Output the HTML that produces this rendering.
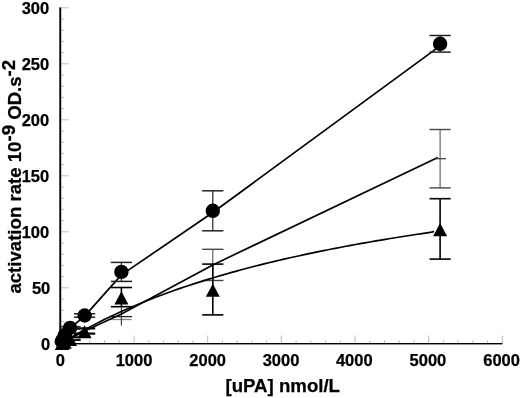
<!DOCTYPE html><html><head><meta charset="utf-8"><title>chart</title>
<style>html,body{margin:0;padding:0;background:#fff;}svg{display:block;}text{font-family:"Liberation Sans",Arial,sans-serif;font-weight:bold;fill:#000;stroke:#000;stroke-width:0.25px;}</style></head><body>
<svg width="520" height="398" viewBox="0 0 520 398">
<rect width="520" height="398" fill="#fff"/>
<g stroke="#a6a6a6" stroke-width="0.75" fill="none">
<line x1="61" y1="343.80" x2="69.00" y2="343.80"/>
<line x1="61" y1="332.60" x2="64.20" y2="332.60"/>
<line x1="61" y1="321.40" x2="64.20" y2="321.40"/>
<line x1="61" y1="310.20" x2="64.20" y2="310.20"/>
<line x1="61" y1="299.00" x2="64.20" y2="299.00"/>
<line x1="61" y1="287.80" x2="69.00" y2="287.80"/>
<line x1="61" y1="276.60" x2="64.20" y2="276.60"/>
<line x1="61" y1="265.40" x2="64.20" y2="265.40"/>
<line x1="61" y1="254.20" x2="64.20" y2="254.20"/>
<line x1="61" y1="243.00" x2="64.20" y2="243.00"/>
<line x1="61" y1="231.80" x2="69.00" y2="231.80"/>
<line x1="61" y1="220.60" x2="64.20" y2="220.60"/>
<line x1="61" y1="209.40" x2="64.20" y2="209.40"/>
<line x1="61" y1="198.20" x2="64.20" y2="198.20"/>
<line x1="61" y1="187.00" x2="64.20" y2="187.00"/>
<line x1="61" y1="175.80" x2="69.00" y2="175.80"/>
<line x1="61" y1="164.60" x2="64.20" y2="164.60"/>
<line x1="61" y1="153.40" x2="64.20" y2="153.40"/>
<line x1="61" y1="142.20" x2="64.20" y2="142.20"/>
<line x1="61" y1="131.00" x2="64.20" y2="131.00"/>
<line x1="61" y1="119.80" x2="69.00" y2="119.80"/>
<line x1="61" y1="108.60" x2="64.20" y2="108.60"/>
<line x1="61" y1="97.40" x2="64.20" y2="97.40"/>
<line x1="61" y1="86.20" x2="64.20" y2="86.20"/>
<line x1="61" y1="75.00" x2="64.20" y2="75.00"/>
<line x1="61" y1="63.80" x2="69.00" y2="63.80"/>
<line x1="61" y1="52.60" x2="64.20" y2="52.60"/>
<line x1="61" y1="41.40" x2="64.20" y2="41.40"/>
<line x1="61" y1="30.20" x2="64.20" y2="30.20"/>
<line x1="61" y1="19.00" x2="64.20" y2="19.00"/>
<line x1="61" y1="7.80" x2="69.00" y2="7.80"/>
<line x1="60.40" y1="343.5" x2="60.40" y2="335.50"/>
<line x1="75.13" y1="343.5" x2="75.13" y2="340.30"/>
<line x1="89.86" y1="343.5" x2="89.86" y2="340.30"/>
<line x1="104.59" y1="343.5" x2="104.59" y2="340.30"/>
<line x1="119.32" y1="343.5" x2="119.32" y2="340.30"/>
<line x1="134.05" y1="343.5" x2="134.05" y2="335.50"/>
<line x1="148.78" y1="343.5" x2="148.78" y2="340.30"/>
<line x1="163.51" y1="343.5" x2="163.51" y2="340.30"/>
<line x1="178.24" y1="343.5" x2="178.24" y2="340.30"/>
<line x1="192.97" y1="343.5" x2="192.97" y2="340.30"/>
<line x1="207.70" y1="343.5" x2="207.70" y2="335.50"/>
<line x1="222.43" y1="343.5" x2="222.43" y2="340.30"/>
<line x1="237.16" y1="343.5" x2="237.16" y2="340.30"/>
<line x1="251.89" y1="343.5" x2="251.89" y2="340.30"/>
<line x1="266.62" y1="343.5" x2="266.62" y2="340.30"/>
<line x1="281.35" y1="343.5" x2="281.35" y2="335.50"/>
<line x1="296.08" y1="343.5" x2="296.08" y2="340.30"/>
<line x1="310.81" y1="343.5" x2="310.81" y2="340.30"/>
<line x1="325.54" y1="343.5" x2="325.54" y2="340.30"/>
<line x1="340.27" y1="343.5" x2="340.27" y2="340.30"/>
<line x1="355.00" y1="343.5" x2="355.00" y2="335.50"/>
<line x1="369.73" y1="343.5" x2="369.73" y2="340.30"/>
<line x1="384.46" y1="343.5" x2="384.46" y2="340.30"/>
<line x1="399.19" y1="343.5" x2="399.19" y2="340.30"/>
<line x1="413.92" y1="343.5" x2="413.92" y2="340.30"/>
<line x1="428.65" y1="343.5" x2="428.65" y2="335.50"/>
<line x1="443.38" y1="343.5" x2="443.38" y2="340.30"/>
<line x1="458.11" y1="343.5" x2="458.11" y2="340.30"/>
<line x1="472.84" y1="343.5" x2="472.84" y2="340.30"/>
<line x1="487.57" y1="343.5" x2="487.57" y2="340.30"/>
<line x1="502.30" y1="343.5" x2="502.30" y2="335.50"/>
</g>
<rect x="59.3" y="7.4" width="1.9" height="337" fill="#000"/>
<rect x="59.2" y="343.0" width="443.2" height="1.4" fill="#000"/>
<g font-size="16.5">
<text x="50.3" y="349.60" text-anchor="end">0</text>
<text x="50.3" y="293.60" text-anchor="end">50</text>
<text x="49.2" y="238.00" text-anchor="end">100</text>
<text x="49.2" y="182.00" text-anchor="end">150</text>
<text x="49.2" y="126.00" text-anchor="end">200</text>
<text x="49.2" y="70.00" text-anchor="end">250</text>
<text x="49.2" y="14.00" text-anchor="end">300</text>
<text x="60.40" y="365.6" text-anchor="middle">0</text>
<text x="134.05" y="365.6" text-anchor="middle">1000</text>
<text x="207.70" y="365.6" text-anchor="middle">2000</text>
<text x="281.05" y="365.6" text-anchor="middle">3000</text>
<text x="354.30" y="365.6" text-anchor="middle">4000</text>
<text x="427.95" y="365.6" text-anchor="middle">5000</text>
<text x="501.60" y="365.6" text-anchor="middle">6000</text>
</g>
<text x="225.5" y="392.4" font-size="18.6" textLength="114.5" lengthAdjust="spacingAndGlyphs">[uPA] nmol/L</text>
<text transform="translate(20.7 293.6) rotate(-90)" font-size="18.62">activation rate 10<tspan dy="-5.3">-9</tspan><tspan dy="5.3"> OD.s</tspan><tspan dy="-5.3">-2</tspan></text>
<g stroke="#484848" fill="none"><line x1="70.00" y1="337.80" x2="70.00" y2="339.80" stroke-width="1.0"/><line x1="59.40" y1="337.80" x2="80.60" y2="337.80" stroke-width="1.4"/><line x1="59.40" y1="339.80" x2="80.60" y2="339.80" stroke-width="1.4"/></g>
<g stroke="#484848" fill="none"><line x1="84.60" y1="329.00" x2="84.60" y2="333.00" stroke-width="1.0"/><line x1="74.00" y1="329.00" x2="95.20" y2="329.00" stroke-width="1.4"/><line x1="74.00" y1="333.00" x2="95.20" y2="333.00" stroke-width="1.4"/></g>
<g stroke="#484848" fill="none"><line x1="212.80" y1="249.30" x2="212.80" y2="280.50" stroke-width="1.0"/><line x1="202.20" y1="249.30" x2="223.40" y2="249.30" stroke-width="1.4"/><line x1="202.20" y1="280.50" x2="223.40" y2="280.50" stroke-width="1.4"/></g>
<g stroke="#484848" fill="none"><line x1="440.10" y1="129.50" x2="440.10" y2="187.90" stroke-width="1.0"/><line x1="429.50" y1="129.50" x2="450.70" y2="129.50" stroke-width="1.4"/><line x1="429.50" y1="187.90" x2="450.70" y2="187.90" stroke-width="1.4"/></g>
<line x1="111" y1="316.6" x2="132" y2="316.6" stroke="#222" stroke-width="1.3"/>
<line x1="110.5" y1="319.5" x2="131.5" y2="319.5" stroke="#888" stroke-width="1.3"/>
<line x1="121.4" y1="306.7" x2="121.4" y2="325.6" stroke="#333" stroke-width="1.1"/>
<polyline points="60.50,343.80 61.80,343.00 62.60,342.60 64.80,341.50 70.00,338.80 84.60,331.00 121.40,314.00 212.80,264.90 437.8,157.4" fill="none" stroke="#000" stroke-width="1.65" stroke-linejoin="round"/>
<line x1="436" y1="158.7" x2="446" y2="158.7" stroke="#444" stroke-width="1.3"/>
<polyline points="60.40,343.80 65.16,340.88 69.92,338.03 74.68,335.27 79.44,332.57 84.20,329.94 88.96,327.38 93.72,324.88 98.48,322.45 103.24,320.07 108.00,317.75 112.76,315.49 117.52,313.28 122.28,311.12 127.03,309.01 131.79,306.95 136.55,304.94 141.31,302.97 146.07,301.04 150.83,299.15 155.59,297.31 160.35,295.51 165.11,293.74 169.87,292.01 174.63,290.31 179.39,288.65 184.15,287.03 188.91,285.43 193.67,283.87 198.43,282.34 203.19,280.84 207.95,279.37 212.71,277.92 217.47,276.50 222.23,275.11 226.99,273.75 231.75,272.41 236.51,271.09 241.27,269.80 246.03,268.53 250.79,267.28 255.54,266.06 260.30,264.86 265.06,263.67 269.82,262.51 274.58,261.37 279.34,260.25 284.10,259.14 288.86,258.06 293.62,256.99 298.38,255.94 303.14,254.90 307.90,253.88 312.66,252.88 317.42,251.90 322.18,250.93 326.94,249.97 331.70,249.03 336.46,248.10 341.22,247.19 345.98,246.29 350.74,245.41 355.50,244.54 360.26,243.68 365.02,242.83 369.78,242.00 374.54,241.17 379.30,240.36 384.05,239.57 388.81,238.78 393.57,238.00 398.33,237.23 403.09,236.48 407.85,235.73 412.61,235.00 417.37,234.27 422.13,233.56 426.89,232.85 431.65,232.16 434,231.4" fill="none" stroke="#000" stroke-width="1.65" stroke-linejoin="round"/>
<polyline points="60.50,343.80 61.80,341.50 62.60,340.20 64.80,335.40 70.00,328.20 84.60,316.10 121.40,274.90 212.80,212.50 440.10,45.90" fill="none" stroke="#000" stroke-width="1.7" stroke-linejoin="round"/>
<g stroke="#000" fill="none"><line x1="70.00" y1="337.10" x2="70.00" y2="340.10" stroke-width="1.6"/><line x1="59.40" y1="337.10" x2="80.60" y2="337.10" stroke-width="1.6"/><line x1="59.40" y1="340.10" x2="80.60" y2="340.10" stroke-width="1.6"/></g>
<g stroke="#000" fill="none"><line x1="84.60" y1="328.10" x2="84.60" y2="333.90" stroke-width="1.6"/><line x1="74.00" y1="328.10" x2="95.20" y2="328.10" stroke-width="1.6"/><line x1="74.00" y1="333.90" x2="95.20" y2="333.90" stroke-width="1.6"/></g>
<g stroke="#000" fill="none"><line x1="121.40" y1="287.50" x2="121.40" y2="306.70" stroke-width="1.6"/><line x1="110.80" y1="287.50" x2="132.00" y2="287.50" stroke-width="1.6"/><line x1="110.80" y1="306.70" x2="132.00" y2="306.70" stroke-width="1.6"/></g>
<g stroke="#000" fill="none"><line x1="212.80" y1="264.10" x2="212.80" y2="314.90" stroke-width="1.6"/><line x1="202.20" y1="264.10" x2="223.40" y2="264.10" stroke-width="1.6"/><line x1="202.20" y1="314.90" x2="223.40" y2="314.90" stroke-width="1.6"/></g>
<g stroke="#000" fill="none"><line x1="440.10" y1="198.70" x2="440.10" y2="259.10" stroke-width="1.6"/><line x1="429.50" y1="198.70" x2="450.70" y2="198.70" stroke-width="1.6"/><line x1="429.50" y1="259.10" x2="450.70" y2="259.10" stroke-width="1.6"/></g>
<polygon points="61.80,336.80 54.80,349.90 68.80,349.90" fill="#000"/>
<polygon points="62.60,336.60 55.60,349.70 69.60,349.70" fill="#000"/>
<polygon points="64.80,335.70 57.80,348.80 71.80,348.80" fill="#000"/>
<polygon points="70.00,332.80 63.00,345.90 77.00,345.90" fill="#000"/>
<polygon points="84.60,325.20 77.60,338.30 91.60,338.30" fill="#000"/>
<polygon points="121.40,291.30 114.40,304.40 128.40,304.40" fill="#000"/>
<polygon points="212.80,283.70 205.80,296.80 219.80,296.80" fill="#000"/>
<polygon points="440.10,223.10 433.10,236.20 447.10,236.20" fill="#000"/>
<g stroke="#222" fill="none"><line x1="70.00" y1="326.70" x2="70.00" y2="329.10" stroke-width="1.4"/><line x1="59.40" y1="326.70" x2="80.60" y2="326.70" stroke-width="1.5"/><line x1="59.40" y1="329.10" x2="80.60" y2="329.10" stroke-width="1.5"/></g>
<g stroke="#222" fill="none"><line x1="84.60" y1="313.80" x2="84.60" y2="317.20" stroke-width="1.4"/><line x1="74.00" y1="313.80" x2="95.20" y2="313.80" stroke-width="1.5"/><line x1="74.00" y1="317.20" x2="95.20" y2="317.20" stroke-width="1.5"/></g>
<g stroke="#222" fill="none"><line x1="121.40" y1="262.40" x2="121.40" y2="281.40" stroke-width="1.2"/><line x1="110.80" y1="262.40" x2="132.00" y2="262.40" stroke-width="1.5"/><line x1="110.80" y1="281.40" x2="132.00" y2="281.40" stroke-width="1.5"/></g>
<g stroke="#222" fill="none"><line x1="212.80" y1="190.80" x2="212.80" y2="230.80" stroke-width="1.2"/><line x1="202.20" y1="190.80" x2="223.40" y2="190.80" stroke-width="1.5"/><line x1="202.20" y1="230.80" x2="223.40" y2="230.80" stroke-width="1.5"/></g>
<g stroke="#222" fill="none"><line x1="440.10" y1="35.50" x2="440.10" y2="52.10" stroke-width="1.2"/><line x1="429.50" y1="35.50" x2="450.70" y2="35.50" stroke-width="1.5"/><line x1="429.50" y1="52.10" x2="450.70" y2="52.10" stroke-width="1.5"/></g>
<circle cx="61.80" cy="341.50" r="7.2" fill="#000"/>
<circle cx="62.60" cy="340.20" r="7.2" fill="#000"/>
<circle cx="64.80" cy="335.40" r="7.2" fill="#000"/>
<circle cx="70.00" cy="327.90" r="7.2" fill="#000"/>
<circle cx="84.60" cy="315.50" r="7.2" fill="#000"/>
<circle cx="121.40" cy="271.90" r="7.2" fill="#000"/>
<circle cx="212.80" cy="210.80" r="7.2" fill="#000"/>
<circle cx="440.10" cy="43.80" r="7.2" fill="#000"/>
</svg></body></html>
